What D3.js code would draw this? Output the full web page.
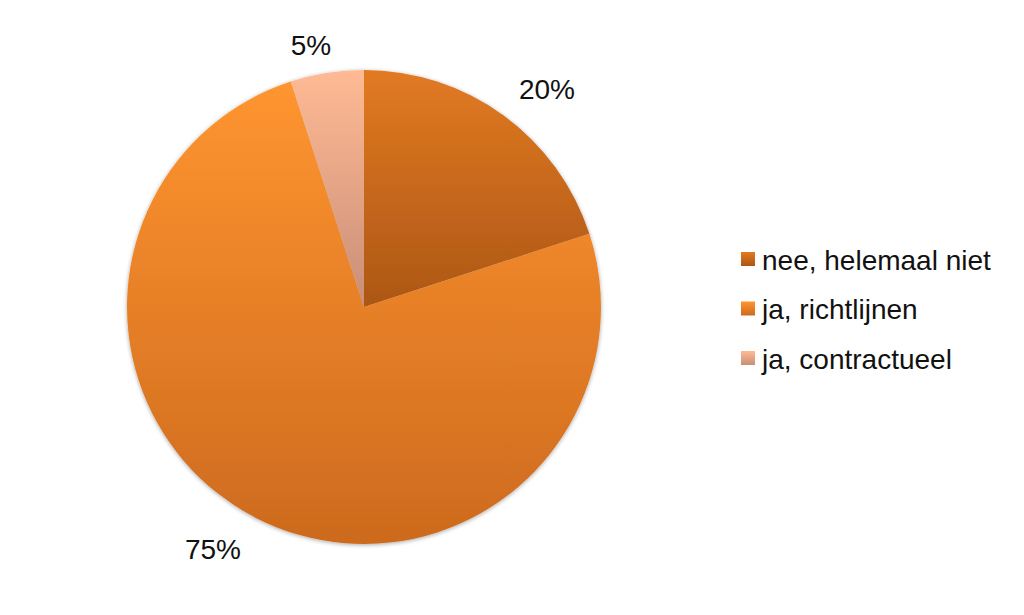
<!DOCTYPE html>
<html><head><meta charset="utf-8">
<script src="https://cdn.jsdelivr.net/npm/d3@7"></script>
<style>body{margin:0;background:#fff}svg{display:block}text{font-family:"Liberation Sans",Arial,sans-serif;fill:#111}</style>
</head><body>
<svg id="c" width="1024" height="615"></svg>
<script>
const categories = ["nee, helemaal niet", "ja, richtlijnen", "ja, contractueel"];
const values = [20, 75, 5];
const labels = ["20%", "75%", "5%"];
const topColors = ["#E27A22", "#FF9530", "#FFBA94"];
const bottomColors = ["#AC5716", "#CD6A1E", "#C98E77"];

const svg = d3.select("#c");
const cx = 364, cy = 307, R = 237;
const defs = svg.append("defs");
categories.forEach((c, i) => {
  const g = defs.append("linearGradient").attr("id", "g" + i)
    .attr("x1", 0).attr("y1", 0).attr("x2", 0).attr("y2", 1);
  g.append("stop").attr("offset", "0%").attr("stop-color", topColors[i]);
  g.append("stop").attr("offset", "100%").attr("stop-color", bottomColors[i]);
});
const f = defs.append("filter").attr("id", "sh").attr("x", "-10%").attr("y", "-10%").attr("width", "120%").attr("height", "120%");
f.append("feGaussianBlur").attr("in", "SourceAlpha").attr("stdDeviation", 2);
f.append("feOffset").attr("dx", 0).attr("dy", 1).attr("result", "b");
f.append("feComponentTransfer").append("feFuncA").attr("type", "linear").attr("slope", 0.35);
const m = f.append("feMerge"); m.append("feMergeNode"); m.append("feMergeNode").attr("in", "SourceGraphic");

const pie = d3.pie().sort(null).value(d => d)(values);
const arc = d3.arc().innerRadius(0).outerRadius(R);
const g = svg.append("g").attr("transform", `translate(${cx},${cy})`).attr("filter", "url(#sh)");
g.selectAll("path").data(pie).join("path").attr("d", arc)
  .attr("fill", (d, i) => `url(#g${i})`);

const labelPos = [[547, 89], [213, 549], [311, 45]];
svg.selectAll("text.lbl").data(labels).join("text").attr("class", "lbl")
  .attr("x", (d, i) => labelPos[i][0]).attr("y", (d, i) => labelPos[i][1])
  .attr("text-anchor", "middle").attr("dominant-baseline", "central")
  .attr("font-size", 28).text(d => d);

const leg = svg.append("g").attr("transform", "translate(741,259)");
const row = leg.selectAll("g").data(categories).join("g")
  .attr("transform", (d, i) => `translate(0,${i * 49.5})`);
row.append("rect").attr("x", 0).attr("y", -7).attr("width", 14).attr("height", 14)
  .attr("fill", (d, i) => `url(#g${i})`);
row.append("text").attr("x", 21).attr("y", 1).attr("dominant-baseline", "central")
  .attr("font-size", 28).text(d => d);
</script>
</body></html>
